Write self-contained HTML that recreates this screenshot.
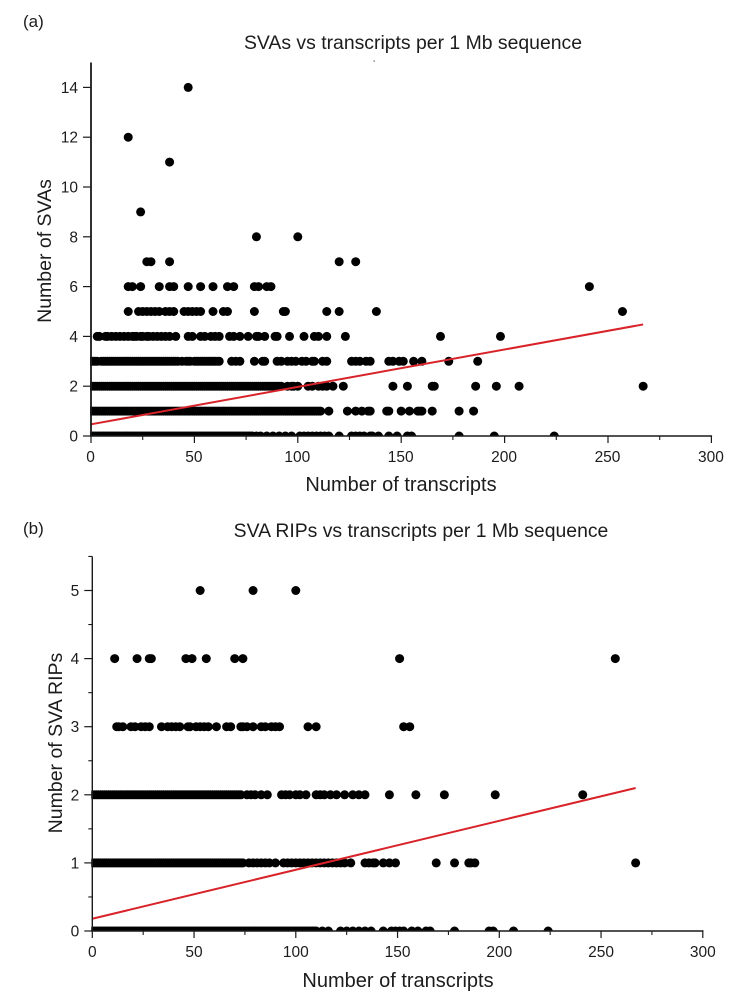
<!DOCTYPE html>
<html lang="en">
<head>
<meta charset="utf-8">
<title>SVAs and SVA RIPs vs transcripts</title>
<style>
html,body{margin:0;padding:0;background:#fff;width:737px;height:998px;overflow:hidden}
svg{display:block;font-family:"Liberation Sans",Arial,sans-serif;fill:#1c1c1c;filter:blur(0.3px)}
</style>
</head>
<body>
<svg id="figure" width="737" height="998" viewBox="0 0 737 998" xmlns="http://www.w3.org/2000/svg">
  <defs>
    <clipPath id="clip-a"><rect x="90" y="60" width="623" height="376"></rect></clipPath>
    <clipPath id="clip-b"><rect x="91.3" y="555" width="613" height="376"></rect></clipPath>
  </defs>
  <text x="23" y="27" font-size="17">(a)</text>
  <text x="413" y="49" font-size="19.4" text-anchor="middle">SVAs vs transcripts per 1 Mb sequence</text>
  <rect x="373.5" y="60.5" width="1.5" height="1" fill="#555"></rect>
  <text x="401" y="491" font-size="20" text-anchor="middle">Number of transcripts</text>
  <text transform="translate(51,251) rotate(-90)" font-size="19.5" text-anchor="middle">Number of SVAs</text>
  <text x="23" y="534" font-size="17">(b)</text>
  <text x="421" y="537" font-size="19.4" text-anchor="middle">SVA RIPs vs transcripts per 1 Mb sequence</text>
  <text x="398" y="987" font-size="20" text-anchor="middle">Number of transcripts</text>
  <text transform="translate(62,743) rotate(-90)" font-size="19.5" text-anchor="middle">Number of SVA RIPs</text>
  <g id="chart-a"></g>
  <g id="chart-b"></g>
</svg>
<script>
// Panel (a): transcripts per 1 Mb, grouped by SVA count
const svaCounts = [14, 12, 11, 9, 8, 7, 6, 5, 4, 3, 2, 1, 0];
const svaTranscripts = [
  [47],
  [18],
  [38],
  [24],
  [80, 100],
  [27, 29, 38, 120, 128],
  [18, 20, 24, 33, 38, 40, 47, 53, 59, 66, 69, 79, 81, 85, 87, 241],
  [18, 23, 25, 27, 29, 31, 33, 36, 38, 40, 45, 47, 49, 51, 53, 59, 64, 66, 79, 93, 94, 114, 120, 138, 257],
  [3, 4, 7, 8, 10, 12, 14, 16, 18, 20, 21, 22, 24, 25, 27, 28, 30, 32, 34, 36, 38, 41, 47, 49, 53, 55, 58, 60, 62, 67, 69, 72, 76, 80, 81, 84, 89, 90, 96, 103, 108, 110, 114, 123, 169, 198],
  [0, 1, 2, 3, 5, 6, 7, 8, 9, 10, 11, 12, 13, 14, 15, 16, 17, 18, 19, 20, 21, 22, 23, 24, 25, 26, 27, 28, 29, 30, 31, 32, 33, 34, 35, 36, 37, 38, 39, 40, 41, 42, 44, 46, 47, 48, 50, 51, 52, 53, 54, 55, 56, 57, 58, 59, 60, 61, 62, 68, 70, 72, 79, 83, 84, 90, 92, 95, 97, 99, 102, 104, 107, 108, 112, 114, 126, 128, 130, 133, 135, 144, 146, 149, 151, 156, 160, 173, 187],
  [0, 1, 2, 3, 4, 5, 6, 7, 8, 9, 10, 11, 12, 13, 14, 15, 16, 17, 18, 19, 20, 21, 22, 23, 24, 25, 26, 27, 28, 29, 30, 31, 32, 33, 34, 35, 36, 37, 38, 39, 40, 41, 42, 43, 44, 45, 46, 47, 48, 49, 50, 51, 52, 53, 54, 55, 56, 57, 58, 59, 60, 61, 62, 63, 64, 65, 66, 67, 68, 69, 70, 71, 72, 73, 74, 75, 76, 77, 78, 79, 80, 81, 82, 83, 84, 85, 86, 87, 88, 89, 90, 91, 92, 95, 97, 98, 100, 105, 107, 110, 112, 114, 117, 122, 146, 153, 165, 166, 186, 196, 207, 267],
  [0, 1, 2, 3, 4, 5, 6, 7, 8, 9, 10, 11, 12, 13, 14, 15, 16, 17, 18, 19, 20, 21, 22, 23, 24, 25, 26, 27, 28, 29, 30, 31, 32, 33, 34, 35, 36, 37, 38, 39, 40, 41, 42, 43, 44, 45, 46, 47, 48, 49, 50, 51, 52, 53, 54, 55, 56, 57, 58, 59, 60, 61, 62, 63, 64, 65, 66, 67, 68, 69, 70, 71, 72, 73, 74, 75, 76, 77, 78, 79, 80, 81, 82, 83, 84, 85, 86, 87, 88, 89, 90, 91, 92, 93, 94, 95, 96, 97, 98, 99, 100, 101, 102, 103, 104, 105, 106, 107, 108, 109, 110, 111, 115, 124, 128, 131, 134, 135, 143, 144, 150, 154, 158, 159, 160, 165, 178, 185],
  [0, 1, 2, 3, 4, 5, 6, 7, 8, 9, 10, 11, 12, 13, 14, 15, 16, 17, 18, 19, 20, 21, 22, 23, 24, 25, 26, 27, 28, 29, 30, 31, 32, 33, 34, 35, 36, 37, 38, 39, 40, 41, 42, 43, 44, 45, 46, 47, 48, 49, 50, 51, 52, 53, 54, 55, 56, 57, 58, 59, 60, 61, 62, 63, 64, 65, 66, 67, 68, 69, 70, 71, 72, 73, 74, 75, 76, 77, 78, 80, 82, 85, 88, 91, 94, 97, 101, 103, 105, 107, 109, 111, 113, 115, 120, 126, 128, 130, 132, 135, 136, 139, 144, 148, 153, 155, 178, 195, 224]
];
const svaFitX = [0, 267];
const svaFitY = [0.47, 4.48];
const svaXTickLabels = [0, 50, 100, 150, 200, 250, 300];
const svaXMinorTicks = [25, 75, 125, 175, 225, 275];
const svaYTickLabels = [0, 2, 4, 6, 8, 10, 12, 14];
const svaYMinorTicks = [];

// Panel (b): transcripts per 1 Mb, grouped by SVA RIP count
const ripCounts = [5, 4, 3, 2, 1, 0];
const ripTranscripts = [
  [53, 79, 100],
  [11, 22, 28, 29, 46, 49, 56, 70, 74, 151, 257],
  [12, 13, 15, 19, 21, 24, 26, 28, 34, 37, 39, 41, 43, 47, 48, 51, 53, 55, 57, 61, 66, 68, 73, 74, 76, 79, 83, 85, 88, 90, 92, 106, 110, 153, 156],
  [0, 1, 2, 3, 4, 5, 6, 7, 8, 9, 10, 11, 12, 13, 14, 15, 16, 17, 18, 19, 20, 21, 22, 23, 24, 25, 26, 27, 28, 29, 30, 31, 32, 33, 34, 35, 36, 37, 38, 39, 40, 41, 42, 43, 44, 45, 46, 47, 48, 49, 50, 51, 52, 53, 54, 55, 56, 57, 58, 59, 60, 61, 62, 63, 64, 65, 66, 67, 68, 69, 70, 71, 72, 73, 76, 78, 80, 83, 86, 93, 95, 97, 100, 102, 105, 110, 112, 114, 117, 120, 124, 128, 131, 134, 146, 159, 173, 198, 241],
  [0, 1, 2, 3, 4, 5, 6, 7, 8, 9, 10, 11, 12, 13, 14, 15, 16, 17, 18, 19, 20, 21, 22, 23, 24, 25, 26, 27, 28, 29, 30, 31, 32, 33, 34, 35, 36, 37, 38, 39, 40, 41, 42, 43, 44, 45, 46, 47, 48, 49, 50, 51, 52, 53, 54, 55, 56, 57, 58, 59, 60, 61, 62, 63, 64, 65, 66, 67, 68, 69, 70, 71, 72, 73, 74, 77, 79, 81, 83, 85, 87, 90, 94, 96, 98, 100, 102, 104, 106, 108, 110, 112, 114, 116, 118, 120, 122, 124, 127, 134, 136, 138, 139, 143, 146, 149, 169, 178, 185, 186, 188, 267],
  [0, 1, 2, 3, 4, 5, 6, 7, 8, 9, 10, 11, 12, 13, 14, 15, 16, 17, 18, 19, 20, 21, 22, 23, 24, 25, 26, 27, 28, 29, 30, 31, 32, 33, 34, 35, 36, 37, 38, 39, 40, 41, 42, 43, 44, 45, 46, 47, 48, 49, 50, 51, 52, 53, 54, 55, 56, 57, 58, 59, 60, 61, 62, 63, 64, 65, 66, 67, 68, 69, 70, 71, 72, 73, 74, 75, 76, 77, 78, 79, 80, 81, 82, 83, 84, 85, 86, 87, 88, 89, 90, 91, 92, 93, 94, 95, 96, 97, 98, 99, 100, 101, 102, 103, 104, 105, 106, 107, 108, 109, 110, 113, 116, 122, 125, 128, 131, 134, 137, 143, 147, 149, 151, 153, 157, 160, 164, 166, 178, 195, 197, 207, 224]
];
const ripFitX = [0, 267];
const ripFitY = [0.18, 2.1];
const ripXTickLabels = [0, 50, 100, 150, 200, 250, 300];
const ripXMinorTicks = [25, 75, 125, 175, 225, 275];
const ripYTickLabels = [0, 1, 2, 3, 4, 5];
const ripYMinorTicks = [0.5, 1.5, 2.5, 3.5, 4.5, 5.5];

const NS = 'http://www.w3.org/2000/svg';

function make(tag, attrs, parent) {
  const el = document.createElementNS(NS, tag);
  Object.keys(attrs).forEach(function (k) { el.setAttribute(k, attrs[k]); });
  parent.appendChild(el);
  return el;
}

function drawChart(cfg) {
  const root = document.getElementById(cfg.id);
  const sx = function (v) { return cfg.x0 + (v - 0) * cfg.xUnit; };
  const sy = function (v) { return cfg.y0 - (v - 0) * cfg.yUnit; };

  const points = make('g', { 'clip-path': 'url(#' + cfg.clip + ')' }, root);
  
  
  cfg.levels.forEach(function (level, i) {
    cfg.values[i].forEach(function (xv) {
      const dot = make('circle', { cx: sx(xv), cy: sy(level), r: 4.5, fill: '#000' }, points);
      
      
    });
  });

  const fit = make('line', {
    x1: sx(cfg.fitX[0]), y1: sy(cfg.fitY[0]),
    x2: sx(cfg.fitX[1]), y2: sy(cfg.fitY[1]),
    stroke: '#d8232a', 'stroke-width': 2
  }, root);
  
  

  const xAxis = make('line', {
    x1: sx(0) - 1, y1: sy(0), x2: sx(cfg.xMax) + 0.7, y2: sy(0),
    stroke: '#1a1a1a', 'stroke-width': 1.4
  }, root);
  
  

  const yAxis = make('line', {
    x1: sx(0), y1: sy(0) + 0.7, x2: sx(0), y2: sy(cfg.yMax),
    stroke: '#1a1a1a', 'stroke-width': cfg.yAxisWidth
  }, root);
  
  

  cfg.xTicks.forEach(function (v) {
    const t = make('line', { x1: sx(v), y1: sy(0), x2: sx(v), y2: sy(0) + 7, stroke: '#1a1a1a', 'stroke-width': 1.2 }, root);
    
    
    const l = make('text', { x: sx(v) + cfg.xLabelShift, y: sy(0) + 26, 'font-size': 15.5, 'text-anchor': 'middle' }, root);
    l.textContent = v;
    
    
  });
  cfg.xMinor.forEach(function (v) {
    const t = make('line', { x1: sx(v), y1: sy(0), x2: sx(v), y2: sy(0) + 4, stroke: '#1a1a1a', 'stroke-width': 1.1 }, root);
    
    
  });
  cfg.yTicks.forEach(function (v) {
    const t = make('line', { x1: sx(0) - 8, y1: sy(v), x2: sx(0), y2: sy(v), stroke: '#1a1a1a', 'stroke-width': 1.2 }, root);
    
    
    const l = make('text', { x: sx(0) - 13, y: sy(v) + 5.5, 'font-size': 15.5, 'text-anchor': 'end' }, root);
    l.textContent = v;
    
    
  });
  cfg.yMinor.forEach(function (v) {
    const t = make('line', { x1: sx(0) - 4, y1: sy(v), x2: sx(0), y2: sy(v), stroke: '#1a1a1a', 'stroke-width': 1.1 }, root);
    
    
  });
}

drawChart({
  id: 'chart-a', clip: 'clip-a', x0: 91, y0: 436, xUnit: 2.068, yUnit: 24.9, xMax: 300, yMax: 15, yAxisWidth: 1.8, xLabelShift: -0.5,
  levels: svaCounts, values: svaTranscripts, fitX: svaFitX, fitY: svaFitY,
  xTicks: svaXTickLabels, xMinor: svaXMinorTicks, yTicks: svaYTickLabels, yMinor: svaYMinorTicks
});
drawChart({
  id: 'chart-b', clip: 'clip-b', x0: 92.3, y0: 931, xUnit: 2.035, yUnit: 68.1, xMax: 300, yMax: 5.5, yAxisWidth: 1.4, xLabelShift: 0,
  levels: ripCounts, values: ripTranscripts, fitX: ripFitX, fitY: ripFitY,
  xTicks: ripXTickLabels, xMinor: ripXMinorTicks, yTicks: ripYTickLabels, yMinor: ripYMinorTicks
});
</script>
</body>
</html>
